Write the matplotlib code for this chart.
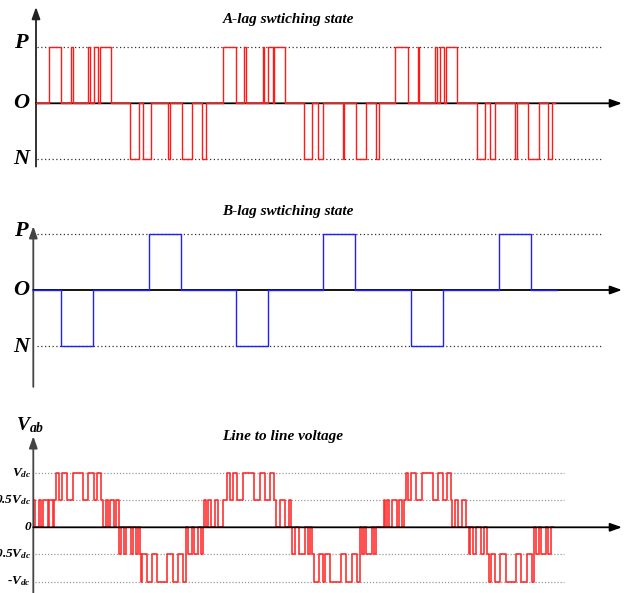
import matplotlib
matplotlib.use('Agg')
import matplotlib.pyplot as plt

plt.rcParams['mathtext.fontset'] = 'custom'
plt.rcParams['mathtext.it'] = 'Liberation Serif:italic:bold'
plt.rcParams['mathtext.rm'] = 'Liberation Serif:italic:bold'
plt.rcParams['mathtext.bf'] = 'Liberation Serif:italic:bold'

W, H = 630, 593
LBL = dict(family='Liberation Serif', weight='bold', style='italic')

# A-leg switching state: pulses to P (+1) and N (-1), start/end times
a_pos_start = [49.3, 70.7, 88.3, 93.7, 100.3, 222.7, 244.3, 263.0, 268.3, 274.3, 395.0, 417.7, 434.7, 440.3, 445.7]
a_pos_end = [61.3, 72.7, 90.3, 97.7, 110.7, 236.0, 246.3, 264.3, 273.3, 285.0, 408.3, 418.6, 436.7, 443.7, 457.3]
a_neg_start = [130.0, 143.3, 168.3, 182.3, 202.3, 304.3, 318.3, 342.7, 355.7, 375.7, 477.3, 490.0, 515.0, 528.3, 548.3]
a_neg_end = [139.3, 150.7, 170.0, 192.3, 206.3, 312.3, 323.3, 343.5, 366.3, 379.3, 485.3, 495.3, 516.7, 538.7, 551.7]
a_span = (36.0, 555.0)

# B-leg switching state
b_start = [61.0, 148.7, 236.0, 322.7, 411.0, 499.0]
b_end = [93.3, 180.7, 268.0, 355.3, 443.3, 530.7]
b_level = [-1, 1, -1, 1, -1, 1]
b_span = (33.3, 557.3)

# line to line voltage (in Vdc): switching times and level after each switch
vab_t = [34.0, 35.3, 38.7, 40.5, 42.7, 47.5, 49.3, 52.7, 54.3,
         55.5, 58.7, 61.5, 67.0, 72.5, 83.0, 88.0, 94.0, 97.0,
         101.3, 103.0, 105.5, 107.5, 110.0, 114.0, 116.3, 118.7,
         119.3, 121.0, 124.0, 126.0, 131.0, 133.0, 136.0, 138.0, 139.5,
         141.0, 142.3, 146.7, 151.7, 156.7, 167.0, 173.3, 178.3, 183.3,
         185.7, 188.3, 191.7, 194.3, 198.3, 201.0, 203.3,
         204.3, 205.7, 208.3, 210.7, 215.0, 218.3, 222.7,
         226.7, 229.5, 233.3, 237.3, 242.5, 254.0, 259.5, 265.3, 270.0,
         273.7, 276.3, 280.3, 285.3, 288.7, 290.5,
         292.0, 295.3, 299.3, 305.0, 308.0, 310.3, 312.0,
         313.7, 318.5, 323.3, 325.0, 330.3, 340.5, 346.0, 351.7, 357.0,
         359.7, 361.7, 364.0, 366.3, 372.3, 374.0, 376.3,
         384.0, 385.0, 387.3, 388.5, 392.0, 397.3, 399.0, 402.3, 404.0,
         405.7, 408.0, 410.5, 416.0, 422.0, 432.5, 438.0, 443.0, 446.7,
         450.7, 452.3, 455.0, 457.7, 462.0, 466.0,
         468.7, 470.0, 472.7, 476.0, 481.0, 484.3, 486.7,
         489.3, 491.0, 495.3, 500.3, 506.0, 516.0, 521.3, 527.0, 532.0,
         534.3, 536.0, 538.7, 541.0, 546.0, 547.7, 551.0, 552.5]
vab_v = [0.5, 0, 0.5, 0, 0.5, 0, 0.5, 0, 0.5,
         1, 0.5, 1, 0.5, 1, 0.5, 1, 0.5, 1,
         0.5, 0, 0.5, 0, 0.5, 0, 0.5, 0,
         -0.5, 0, -0.5, 0, -0.5, 0, -0.5, 0, -0.5,
         -1, -0.5, -1, -0.5, -1, -0.5, -1, -0.5, -1,
         0, -0.5, 0, -0.5, 0, -0.5, 0,
         0.5, 0, 0.5, 0, 0.5, 0, 0.5,
         1, 0.5, 1, 0.5, 1, 0.5, 1, 0.5, 1,
         0.5, 0, 0.5, 0, 0.5, 0,
         -0.5, 0, -0.5, 0, -0.5, 0, -0.5,
         -1, -0.5, -1, -0.5, -1, -0.5, -1, -0.5, -1,
         0, -0.5, 0, -0.5, 0, -0.5, 0,
         0.5, 0, 0.5, 0, 0.5, 0, 0.5, 0, 0.5,
         1, 0.5, 1, 0.5, 1, 0.5, 1, 0.5, 1,
         0.5, 0, 0.5, 0, 0.5, 0,
         -0.5, 0, -0.5, 0, -0.5, 0, -0.5,
         -1, -0.5, -1, -0.5, -1, -0.5, -1, -0.5, -1,
         0, -0.5, 0, -0.5, 0, -0.5, 0, 0]

vab_levels = [1, 0.5, 0, -0.5, -1]
vab_labels = [r'$V_{dc}$', r'$0.5V_{dc}$', '0', r'-$0.5V_{dc}$', r'-$V_{dc}$']


def pulses(span, starts, ends, levels):
    t, v = [span[0]], [0]
    for s, e, l in sorted(zip(starts, ends, levels)):
        t += [s, e]
        v += [l, 0]
    t.append(span[1])
    v.append(0)
    return t, v


def panel(top_px, bot_px, zero_px, unit_px):
    ax = fig.add_axes([0, 1 - bot_px / H, 1, (bot_px - top_px) / H])
    ax.set_xlim(0, W)
    ax.set_ylim((zero_px - bot_px) / unit_px, (zero_px - top_px) / unit_px)
    ax.axis('off')
    return ax


def arrow(ax, p0, p1, color, z):
    ax.annotate('', xy=p1, xytext=p0, zorder=z, annotation_clip=False,
                arrowprops=dict(arrowstyle='-|>,head_length=0.7,head_width=0.25',
                                color=color, lw=1.3, shrinkA=0, shrinkB=0))


fig = plt.figure(figsize=(6.3, 5.93), dpi=100)

# A-leg
ax1 = panel(0, 185, 103.3, 56)
arrow(ax1, (36, -1.13), (36, 1.72), '#222222', 2)
arrow(ax1, (36, 0), (622, 0), 'black', 2)
ax1.hlines([1, -1], 37, 601, colors='#333333', linestyles=(0, (1, 2)), lw=0.9)
t, v = pulses(a_span, a_pos_start + a_neg_start, a_pos_end + a_neg_end,
              [1] * len(a_pos_start) + [-1] * len(a_neg_start))
ax1.plot(t, v, drawstyle='steps-post', color='#ff1a1a', lw=1.0, zorder=3)
for lab, y in zip(['P', 'O', 'N'], [1.08, 0, -1.0]):
    ax1.text(21, y, lab, ha='center', va='center', fontsize=16, **LBL)
ax1.text(288, 1.49, 'A-lag swtiching state', ha='center', va='center', fontsize=11, **LBL)

# B-leg
ax2 = panel(185, 395, 290, 56)
arrow(ax2, (33.3, -1.73), (33.3, 1.14), '#444444', 2)
arrow(ax2, (33.3, 0), (622, 0), 'black', 2)
ax2.hlines([1, -1], 37, 602, colors='#333333', linestyles=(0, (1, 2)), lw=0.9)
t, v = pulses(b_span, b_start, b_end, b_level)
ax2.plot(t, v, drawstyle='steps-post', color='#2020ff', lw=1.0, zorder=3)
for lab, y in zip(['P', 'O', 'N'], [1.05, 0, -1.02]):
    ax2.text(21, y, lab, ha='center', va='center', fontsize=16, **LBL)
ax2.text(288, 1.41, 'B-lag swtiching state', ha='center', va='center', fontsize=11, **LBL)

# line to line voltage
ax3 = panel(395, 593, 527.3, 54.2)
arrow(ax3, (33.3, -1.3), (33.3, 1.68), '#444444', 4)
arrow(ax3, (33.3, 0), (622, 0), 'black', 4)
ax3.hlines([1, 0.5, -0.5, -1], 35, 564, colors='#999999', linestyles=(0, (1, 1.5)), lw=0.9)
ax3.plot(vab_t, vab_v, drawstyle='steps-post', color='#ff1a1a', lw=1.2, alpha=0.9, zorder=3)
for lab, y in zip(vab_labels, vab_levels):
    ax3.text(31, y, lab, ha='right', va='center', fontsize=9.5, **LBL)
ax3.text(16, 1.89, r'$V_{ab}$', ha='left', va='center', fontsize=14, **LBL)
ax3.text(283, 1.68, 'Line to line voltage', ha='center', va='center', fontsize=11, **LBL)

fig.savefig('out.png', dpi=100)
